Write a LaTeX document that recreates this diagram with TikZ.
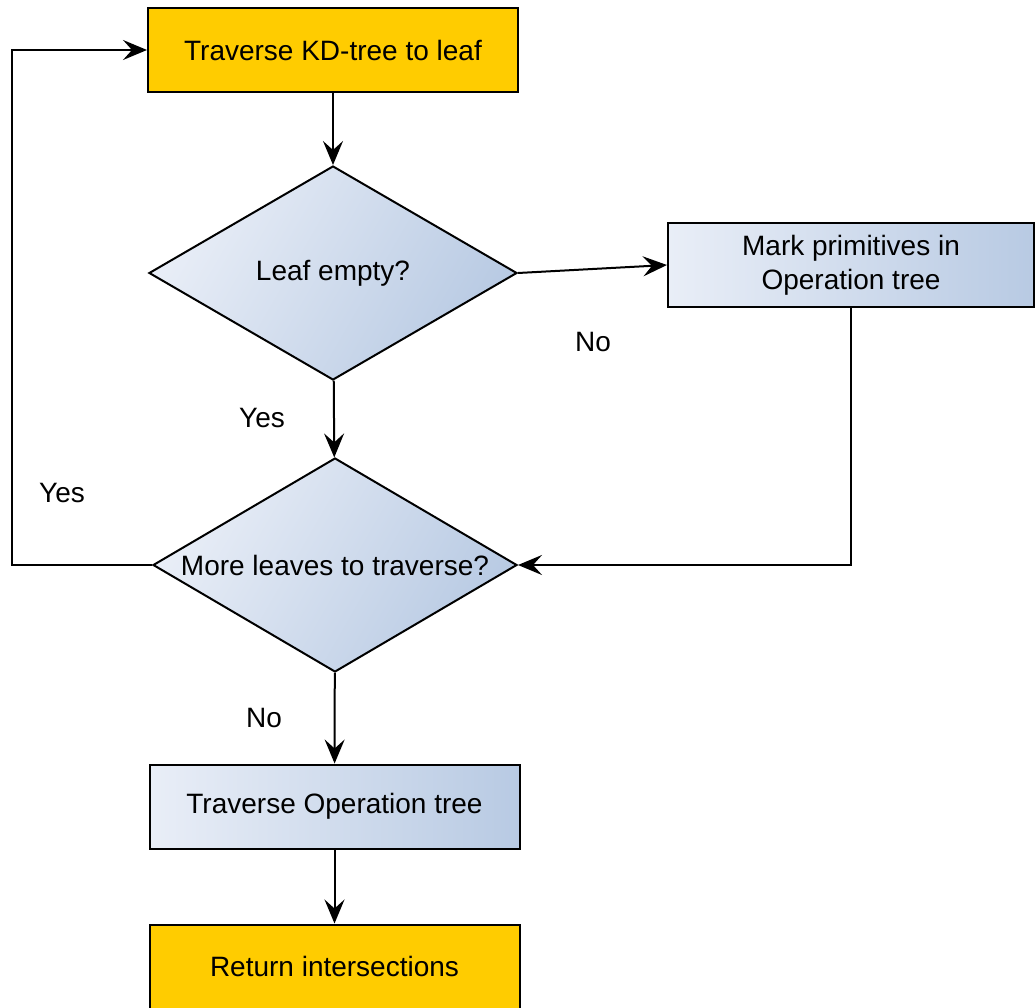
\documentclass[tikz,border=0pt]{standalone}
\usepackage{fontspec}
\setmainfont{Liberation Sans}
\usetikzlibrary{shapes.geometric,arrows.meta}
\definecolor{gold}{HTML}{FFCC00}
\definecolor{gradL}{HTML}{E9EEF7}
\definecolor{gradR}{HTML}{B8CAE3}
\tikzset{
    arr/.style={line width=2pt, -{Stealth[length=24pt,width=20pt,inset=9pt]}},
    goldbox/.style={rectangle, draw, line width=2pt, fill=gold, minimum width=370pt, minimum height=84pt, inner sep=0pt},
    bluebox/.style={rectangle, draw, line width=2pt, left color=gradL, right color=gradR, minimum width=370pt, minimum height=84pt, inner sep=0pt, align=center},
    query/.style={diamond, draw, line width=2pt, left color=gradL, right color=gradR, shading angle=60, minimum width=368pt, minimum height=214pt, inner sep=0pt, aspect=1.7},
    lbl/.style={inner sep=0pt}
}
\begin{document}
\begin{tikzpicture}[x=1pt, y=-1pt, font=\fontsize{28}{34}\selectfont]
    \useasboundingbox (0,0) rectangle (1035,1008);
    \node[goldbox] (trav) at (333,50) {Traverse KD-tree to leaf};
    \node[query] (empty) at (333,273) {Leaf empty?};
    \node[bluebox, minimum width=366pt] (mark) at (851,265) {Mark primitives in\\Operation tree};
    \node[query, minimum width=364pt] (more) at (335,565) {More leaves to traverse?};
    \node[bluebox] (travop) at (334.5,806.5) {Traverse Operation tree};
    \node[goldbox] (ret) at (334.5,966.5) {Return intersections};
    \coordinate (loop) at (12,565);
    \node[lbl] (no1) at (593,342) {No};
    \node[lbl] (yes1) at (262,418) {Yes};
    \node[lbl] (yes2) at (62,493) {Yes};
    \node[lbl] (no2) at (264,718) {No};
    \draw[arr] (trav) -- (empty);
    \draw[arr] (empty.east) -- (mark.west);
    \draw[arr] (mark.south) |- (more.east);
    \draw[arr] (empty) -- (more);
    \draw[arr] (more.west) -- (loop) |- (trav.west);
    \draw[arr] (more) -- (travop);
    \draw[arr] (travop) -- (ret);
\end{tikzpicture}
\end{document}
